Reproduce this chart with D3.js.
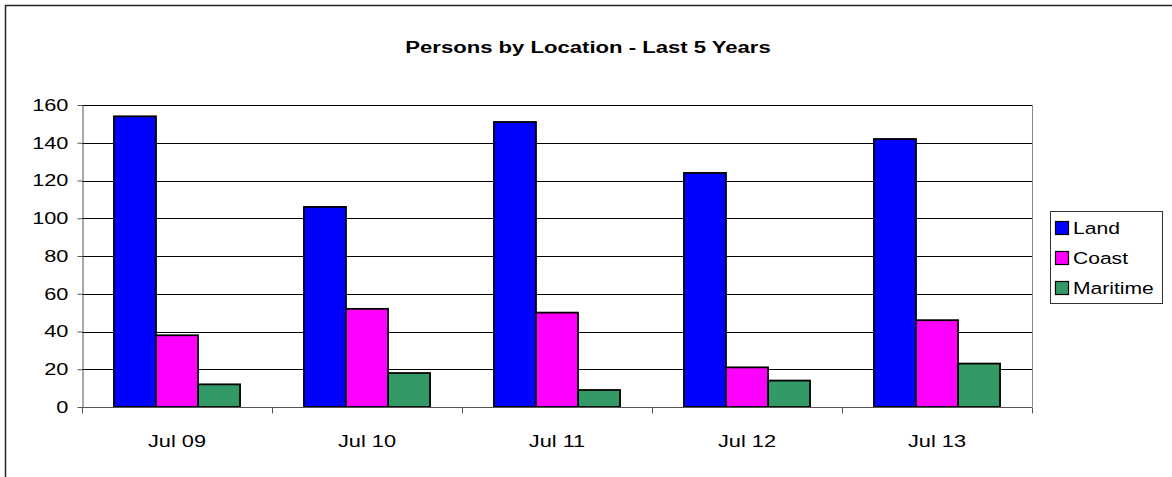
<!DOCTYPE html>
<html>
<head>
<meta charset="utf-8">
<script src="https://cdn.jsdelivr.net/npm/d3@7"></script>
<style>
body { margin: 0; background: #fff; }
svg { display: block; font-family: Arial, "Liberation Sans", sans-serif; }
</style>
</head>
<body>
<script>
const SvgWidth = 1172, SvgHeight = 477;
var margin = {top: 105, right: 140, bottom: 70, left: 82};
var Width = 1032 - margin.left;
var Height = 407 - margin.top;
// the reference text is drawn wider than normal Arial
var stretch = 1.28;

// data
var categories = ['Jul 09', 'Jul 10', 'Jul 11', 'Jul 12', 'Jul 13'];
var seriesNames = ['Land', 'Coast', 'Maritime'];
var land = [154, 106, 151, 124, 142];
var coast = [38, 52, 50, 21, 46];
var maritime = [12, 18, 9, 14, 23];
var yTicks = [0, 20, 40, 60, 80, 100, 120, 140, 160];
var colors = ['#0000ff', '#ff00ff', '#339966'];

var values = [land, coast, maritime];
var rows = categories.map(function(c, i){
	return seriesNames.map(function(s, j){ return {cat: c, series: s, value: values[j][i], k: j}; });
});

var svg = d3.select('body')
			.append('svg')
			.attr('width', SvgWidth)
			.attr('height', SvgHeight)
			.style('background-color', 'white');

// outer chart border (cropped on right/bottom)
svg.append('path')
	.attr('d', 'M5.5,' + SvgHeight + 'V5.5H' + SvgWidth)
	.attr('fill', 'none')
	.attr('stroke', '#222')
	.attr('stroke-width', 1.5);

svg.append('text')
	.attr('transform', 'translate(588,53) scale(1.3,1)')
	.attr('text-anchor', 'middle')
	.attr('font-weight', 'bold')
	.attr('font-size', '17px')
	.text('Persons by Location - Last 5 Years');

var g = svg.append('g')
			.attr('transform', 'translate(' + margin.left + ',' + margin.top + ')');

var x0 = d3.scaleBand().domain(categories).range([0, Width]).paddingInner(0).paddingOuter(0);
var x1 = d3.scaleBand().domain(seriesNames).range([0, x0.bandwidth()]).paddingInner(0).paddingOuter(0.76);
var y = d3.scaleLinear().domain([0, 160]).range([Height, 0]);

// gridlines
g.selectAll('.grid')
	.data(yTicks.slice(1))
	.enter().append('line')
	.attr('class', 'grid')
	.attr('x1', 0).attr('x2', Width)
	.attr('y1', function(d){ return Math.round(y(d)) + 0.5; })
	.attr('y2', function(d){ return Math.round(y(d)) + 0.5; })
	.attr('stroke', '#000')
	.attr('stroke-width', 1);

// right plot border
g.append('line')
	.attr('x1', Width + 0.5).attr('x2', Width + 0.5)
	.attr('y1', 0).attr('y2', Height)
	.attr('stroke', '#888');

// bars
var groups = g.selectAll('.grp')
	.data(rows)
	.enter().append('g')
	.attr('class', 'grp')
	.attr('transform', function(d, i){ return 'translate(' + x0(categories[i]) + ',0)'; });

groups.selectAll('rect')
	.data(function(d){ return d; })
	.enter().append('rect')
	.attr('x', function(d){ return x1(d.series); })
	.attr('y', function(d){ return y(d.value); })
	.attr('width', x1.bandwidth())
	.attr('height', function(d){ return Height - y(d.value); })
	.attr('fill', function(d){ return colors[d.k]; })
	.attr('stroke', '#000')
	.attr('stroke-width', 1.8);

// y axis
var yAxis = g.append('g')
	.attr('transform', 'translate(0.5,0)')
	.call(d3.axisLeft(y).tickValues(yTicks).tickSize(5).tickPadding(6).tickSizeOuter(0));
yAxis.selectAll('text')
	.attr('font-size', '17px')
	.attr('fill', '#000')
	.attr('font-family', 'Arial, "Liberation Sans", sans-serif')
	.attr('transform', 'scale(' + stretch + ',1)');
yAxis.selectAll('line, path').attr('stroke', '#555');

// x axis with ticks at category boundaries
var xAxis = g.append('g')
	.attr('transform', 'translate(0,' + (Math.round(Height) + 0.5) + ')');
xAxis.append('line')
	.attr('x1', 0).attr('x2', Width)
	.attr('stroke', '#555');
var bounds = categories.map(function(c){ return x0(c); }).concat([Width]);
xAxis.selectAll('.tick')
	.data(bounds)
	.enter().append('line')
	.attr('x1', function(d){ return Math.round(d) + 0.5; })
	.attr('x2', function(d){ return Math.round(d) + 0.5; })
	.attr('y1', 0).attr('y2', 6)
	.attr('stroke', '#555');
xAxis.selectAll('.lbl')
	.data(categories)
	.enter().append('text')
	.attr('transform', function(d){ return 'translate(' + (x0(d) + x0.bandwidth() / 2) + ',39) scale(' + stretch + ',1)'; })
	.attr('text-anchor', 'middle')
	.attr('font-size', '17px')
	.text(function(d){ return d; });

// legend
var legend = svg.append('g').attr('transform', 'translate(1050,211)');
legend.append('rect')
	.attr('x', 0.5).attr('y', 0.5)
	.attr('width', 112).attr('height', 92)
	.attr('fill', 'white')
	.attr('stroke', '#333');
var items = legend.selectAll('.item')
	.data(seriesNames)
	.enter().append('g')
	.attr('transform', function(d, i){ return 'translate(0,' + (17 + i * 30) + ')'; });
items.append('rect')
	.attr('x', 5.5).attr('y', -6.5)
	.attr('width', 13).attr('height', 13)
	.attr('fill', function(d, i){ return colors[i]; })
	.attr('stroke', '#000')
	.attr('stroke-width', 1.2);
items.append('text')
	.attr('transform', 'translate(23,6) scale(1.24,1)')
	.attr('font-size', '17px')
	.text(function(d){ return d; });
</script>
</body>
</html>
